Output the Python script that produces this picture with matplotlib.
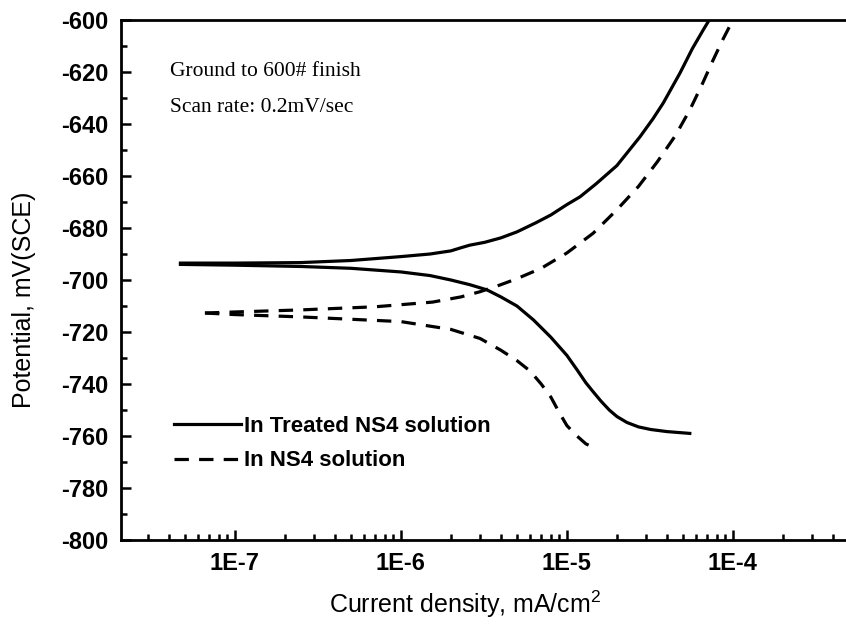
import numpy as np
import matplotlib
matplotlib.use("Agg")
import matplotlib.pyplot as plt
from matplotlib.ticker import LogLocator, MultipleLocator, FuncFormatter

plt.rcParams["font.family"] = ["Liberation Sans", "DejaVu Sans"]
plt.rcParams["mathtext.fontset"] = "custom"
plt.rcParams["mathtext.rm"] = "Liberation Sans"
plt.rcParams["mathtext.default"] = "regular"
plt.rcParams["axes.unicode_minus"] = False

# ----------------------------
# data
# ----------------------------

# treated NS4 solution (solid)
treated_anodic_i = [4.7e-8, 1e-7, 2.5e-7, 5e-7, 1e-6, 1.5e-6, 2e-6, 2.3e-6, 2.6e-6,
                    3.2e-6, 4e-6, 5e-6, 6.5e-6, 8e-6, 1e-5, 1.2e-5, 1.5e-5, 2e-5,
                    2.75e-5, 3.3e-5, 3.8e-5, 4.8e-5, 5.7e-5, 6.6e-5, 7.2e-5]
treated_anodic_E = [-693.5, -693.5, -693.3, -692.5, -691, -690, -688.8, -687.6, -686.6,
                    -685.5, -683.8, -681.5, -678, -675, -671, -668, -663, -656,
                    -645, -638, -632, -620.4, -611, -604, -600]
treated_cathodic_i = [4.7e-8, 1e-7, 2.5e-7, 5e-7, 1e-6, 1.5e-6, 2e-6, 2.6e-6, 3.3e-6,
                      4e-6, 5e-6, 6.3e-6, 8e-6, 1e-5, 1.15e-5, 1.3e-5, 1.44e-5,
                      1.6e-5, 1.8e-5, 2e-5, 2.3e-5, 2.7e-5, 3.2e-5, 4e-5, 5.5e-5]
treated_cathodic_E = [-694, -694.3, -694.8, -695.5, -696.9, -698.3, -700, -701.8, -703.8,
                      -706.5, -710, -715.4, -722, -729, -734.5, -739.5, -743,
                      -746.5, -750, -752.5, -754.8, -756.5, -757.5, -758.3, -759]

# NS4 solution (dashed)
ns4_anodic_i = [6.6e-8, 1e-7, 2.5e-7, 7e-7, 1.55e-6, 2.3e-6, 3e-6, 4e-6, 5e-6, 7e-6,
                1e-5, 1.44e-5, 2e-5, 2.7e-5, 3.5e-5, 4.5e-5, 5.5e-5, 6.5e-5, 7.6e-5,
                8.7e-5, 1e-4]
ns4_anodic_E = [-712.7, -712.3, -711.5, -710.3, -708.5, -706.5, -704.5, -701.8, -699.5,
                -695.5, -689.6, -682, -673, -664, -654.6, -644.5, -634.6, -625, -615.4,
                -607.5, -600]
ns4_cathodic_i = [6.6e-8, 1e-7, 2.5e-7, 1e-6, 2e-6, 3e-6, 4e-6, 5e-6, 6e-6, 7e-6, 8e-6,
                  9e-6, 1e-5, 1.15e-5, 1.3e-5, 1.4e-5]
ns4_cathodic_E = [-712.7, -713.3, -714.2, -716, -719, -722.5, -727, -731, -735, -740,
                  -745, -751, -756, -760, -763, -764]

labels = ["In Treated NS4 solution", "In NS4 solution"]

# ----------------------------
# figure
# ----------------------------

fig = plt.figure(figsize=(8.46, 6.3), dpi=100)
W, H = 846, 630
left, top, bottom = 121, 20, 540
xmin, xmax = 2.06e-8, 6e-4
px_per_decade = 166
right = left + px_per_decade * np.log10(xmax / xmin)
ax = fig.add_axes([left / W, 1 - bottom / H, (right - left) / W, (bottom - top) / H])

lw = 2.3
dash = (4.5, 3.2)
ax.plot(treated_anodic_i, treated_anodic_E, color="black", lw=lw, label=labels[0])
ax.plot(treated_cathodic_i, treated_cathodic_E, color="black", lw=lw)
ax.plot(ns4_anodic_i, ns4_anodic_E, color="black", lw=lw, dashes=dash, label=labels[1])
ax.plot(ns4_cathodic_i, ns4_cathodic_E, color="black", lw=lw, dashes=dash)

ax.set_xscale("log")
ax.set_xlim(xmin, xmax)
ax.set_ylim(-800, -600)

ax.xaxis.set_major_locator(LogLocator(base=10, numticks=20))
ax.xaxis.set_minor_locator(LogLocator(base=10, subs=np.arange(2, 10), numticks=20))
ax.xaxis.set_major_formatter(FuncFormatter(lambda v, p: "1E%d" % round(np.log10(v))))
ax.yaxis.set_major_locator(MultipleLocator(20))
ax.yaxis.set_minor_locator(MultipleLocator(10))

ax.tick_params(which="both", direction="in", top=False, right=False, width=1.8)
ax.tick_params(which="major", length=7, labelsize=17, pad=9)
ax.tick_params(which="minor", length=4)
for lab in ax.get_xticklabels() + ax.get_yticklabels():
    lab.set_fontweight("bold")

for s in ["left", "bottom", "top"]:
    ax.spines[s].set_linewidth(2.0)
ax.spines["right"].set_visible(False)

fig.text(465 / W, 1 - 604 / H, "Current density, mA/cm$^2$", ha="center",
         va="center", fontsize=18)
fig.text(24 / W, 1 - 300 / H, "Potential, mV(SCE)", ha="center", va="center",
         rotation=90, fontsize=18)

ax.text((170 - left) / (right - left), (bottom - 72) / (bottom - top),
        "Ground to 600# finish", transform=ax.transAxes, fontsize=15.5,
        family="Liberation Serif", va="center")
ax.text((170 - left) / (right - left), (bottom - 107) / (bottom - top),
        "Scan rate: 0.2mV/sec", transform=ax.transAxes, fontsize=15.5,
        family="Liberation Serif", va="center")

leg = ax.legend(loc="upper left",
                bbox_to_anchor=((174 - left) / (right - left), (bottom - 416) / (bottom - top)),
                frameon=False, borderpad=0, borderaxespad=0, handlelength=3.0,
                handletextpad=0.15, labelspacing=0.6,
                prop={"size": 16, "weight": "bold"})

fig.savefig("out.png", dpi=100)
